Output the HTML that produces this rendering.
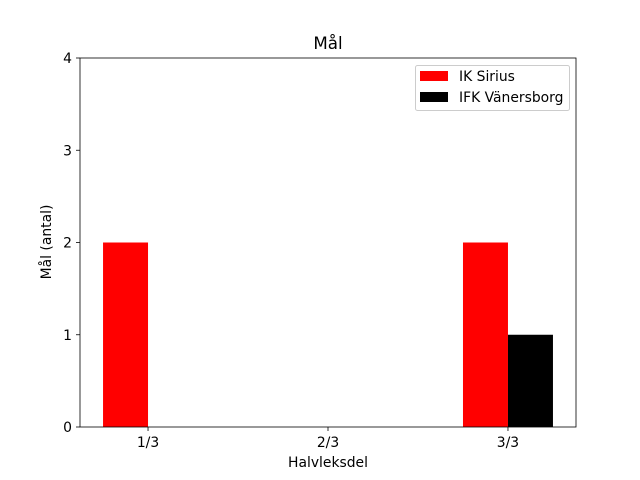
<!DOCTYPE html>
<html><head><meta charset="utf-8"><style>body{margin:0;background:#fff}svg{display:block;font-family:"DejaVu Sans","Liberation Sans",sans-serif}</style></head>
<body>
<svg id="c" width="640" height="480"></svg>
<script>
const categories = ["1/3","2/3","3/3"];
const siriusValues = [2,0,2];
const vanersborgValues = [0,0,1];
const yTicks = [0,1,2,3,4];
const seriesNames = ["IK Sirius","IFK Vänersborg"];

const L=80,R=576,T=58,B=427;
const xmin=-0.378,xmax=2.378,ymin=0,ymax=4;
const xs=v=>L+(v-xmin)/(xmax-xmin)*(R-L);
const ys=v=>B-(v-ymin)/(ymax-ymin)*(B-T);
const svg=document.getElementById('c');
const NS="http://www.w3.org/2000/svg";
function mk(tag,attrs,parent){const e=document.createElementNS(NS,tag);for(const k in attrs)e.setAttribute(k,attrs[k]);(parent||svg).appendChild(e);return e;}
const bw=0.25;
categories.forEach((c,i)=>{
  const r1=mk('rect',{x:xs(i-bw),y:ys(siriusValues[i]),width:xs(i)-xs(i-bw),height:ys(0)-ys(siriusValues[i]),fill:'#ff0000'});
  
  
  const r2=mk('rect',{x:xs(i),y:ys(vanersborgValues[i]),width:xs(i+bw)-xs(i),height:ys(0)-ys(vanersborgValues[i]),fill:'#000'});
  
  
  mk('line',{x1:xs(i),x2:xs(i),y1:B,y2:B+4,stroke:'#000','stroke-width':0.8});
  const t=mk('text',{x:xs(i),y:B+20,'text-anchor':'middle','font-size':13.9});t.textContent=c;
  
  
});
yTicks.forEach(v=>{
  mk('line',{x1:L-4,x2:L,y1:ys(v),y2:ys(v),stroke:'#000','stroke-width':0.8});
  const t=mk('text',{x:L-8,y:ys(v)+5,'text-anchor':'end','font-size':13.9});t.textContent=v;
  
  
});
const fr=mk('rect',{x:L,y:T,width:R-L,height:B-T,fill:'none',stroke:'#000','stroke-width':0.8});


</script>
<div style="position:absolute;left:0;top:0;width:640px;height:480px;pointer-events:none">
<svg width="640" height="480" style="font-family:'DejaVu Sans','Liberation Sans',sans-serif">
<text x="328" y="49" text-anchor="middle" font-size="16.7">Mål</text>
<text x="328" y="467" text-anchor="middle" font-size="13.9">Halvleksdel</text>
<text x="0" y="0" transform="translate(51,242) rotate(-90)" text-anchor="middle" font-size="13.9">Mål (antal)</text>
<g>
<rect x="415.5" y="65.5" width="154" height="45" rx="2" fill="#fff" fill-opacity="0.8" stroke="#ccc"/>
<rect x="420" y="71" width="28" height="10" fill="#ff0000"/>
<text x="459" y="81" font-size="13.9">IK Sirius</text>
<rect x="420" y="92" width="28" height="10" fill="#000"/>
<text x="459" y="102" font-size="13.9">IFK Vänersborg</text>
</g>
</svg></div>
</body></html>
